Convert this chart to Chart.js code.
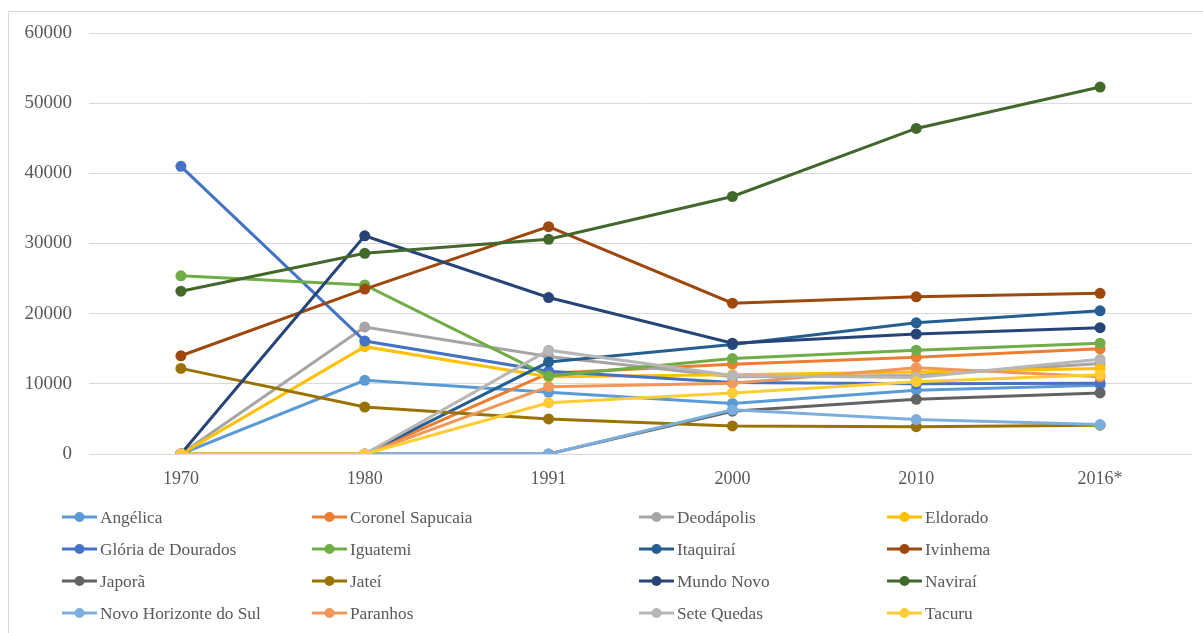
<!DOCTYPE html>
<html>
<head>
<meta charset="utf-8">
<script src="https://cdn.jsdelivr.net/npm/chart.js@4/dist/chart.umd.min.js"></script>
<style>
  html, body { margin: 0; padding: 0; background: #fff; }
  #wrap { width: 1203px; height: 633px; position: relative; }
</style>
</head>
<body>
<div id="wrap"><canvas id="c"></canvas></div>
<script>
const categories = ["1970", "1980", "1991", "2000", "2010", "2016*"];
const yTicks = [0, 10000, 20000, 30000, 40000, 50000, 60000];

const seriesNames = [
  "Angélica", "Coronel Sapucaia", "Deodápolis", "Eldorado",
  "Glória de Dourados", "Iguatemi", "Itaquiraí", "Ivinhema",
  "Japorã", "Jateí", "Mundo Novo", "Naviraí",
  "Novo Horizonte do Sul", "Paranhos", "Sete Quedas", "Tacuru"
];

const angelica        = [0, 10500, 8800, 7200, 9100, 9800];
const coronelSapucaia = [0, 0, 11500, 12800, 13800, 15000];
const deodapolis      = [0, 18100, 13900, 11000, 11200, 12900];
const eldorado        = [0, 15300, 11000, 11300, 11700, 12200];
const gloria          = [41000, 16100, 11800, 10200, 10000, 10100];
const iguatemi        = [25400, 24100, 11100, 13600, 14800, 15800];
const itaquirai       = [0, 0, 13100, 15600, 18700, 20400];
const ivinhema        = [14000, 23500, 32400, 21500, 22400, 22900];
const japora          = [0, 0, 0, 6100, 7800, 8700];
const jatei           = [12200, 6700, 5000, 4000, 3900, 4100];
const mundoNovo       = [0, 31100, 22300, 15800, 17100, 18000];
const navirai         = [23200, 28600, 30600, 36700, 46400, 52300];
const novoHorizonte   = [0, 0, 0, 6300, 4900, 4200];
const paranhos        = [0, 0, 9600, 10100, 12300, 11000];
const seteQuedas      = [0, 0, 14800, 11200, 10900, 13500];
const tacuru          = [0, 0, 7300, 8700, 10300, 11300];

const seriesValues = [
  angelica, coronelSapucaia, deodapolis, eldorado,
  gloria, iguatemi, itaquirai, ivinhema,
  japora, jatei, mundoNovo, navirai,
  novoHorizonte, paranhos, seteQuedas, tacuru
];

const colors = [
  "#5B9BD5", "#ED7D31", "#A5A5A5", "#FFC000",
  "#4472C4", "#70AD47", "#255E91", "#9E480E",
  "#636363", "#997300", "#264478", "#43682B",
  "#7CAFDD", "#F1975A", "#B7B7B7", "#FFCD33"
];

const FONT = "'Liberation Serif', 'Times New Roman', serif";
const TEXT = "#595959";
const n = seriesNames.length;

const datasets = seriesNames.map((name, i) => ({
  label: name,
  data: seriesValues[i],
  borderColor: colors[i],
  backgroundColor: colors[i],
  pointBackgroundColor: colors[i],
  pointBorderColor: colors[i],
  borderWidth: 3,
  pointRadius: 5.5,
  pointBorderWidth: 0,
  tension: 0,
  fill: false,
  order: n - i
}));

const legendCols = [62, 312, 639, 887];
const legendRows = [517, 549, 581, 613];

const gridLegend = {
  id: "gridLegend",
  afterDraw(chart) {
    const ctx = chart.ctx;
    ctx.save();
    chart.data.datasets.forEach((ds, i) => {
      const x = legendCols[i % 4];
      const y = legendRows[Math.floor(i / 4)];
      ctx.strokeStyle = ds.borderColor;
      ctx.lineWidth = 3;
      ctx.beginPath();
      ctx.moveTo(x, y);
      ctx.lineTo(x + 35, y);
      ctx.stroke();
      ctx.fillStyle = ds.borderColor;
      ctx.beginPath();
      ctx.arc(x + 17.5, y, 5, 0, Math.PI * 2);
      ctx.fill();
      ctx.fillStyle = TEXT;
      ctx.font = "17.3px " + FONT;
      ctx.textBaseline = "middle";
      ctx.textAlign = "left";
      ctx.fillText(ds.label, x + 38, y + 1);
    });
    ctx.strokeStyle = "#D9D9D9";
    ctx.lineWidth = 1;
    ctx.strokeRect(8.5, 11.5, 1220, 700);
    ctx.restore();
  }
};

new Chart(document.getElementById("c"), {
  type: "line",
  data: { labels: categories, datasets },
  plugins: [gridLegend],
  options: {
    responsive: true,
    maintainAspectRatio: false,
    animation: false,
    layout: { padding: { left: 10, right: 11, top: 33, bottom: 149 } },
    plugins: { legend: { display: false }, tooltip: { enabled: false } },
    scales: {
      x: {
        offset: true,
        grid: { display: false, drawTicks: false },
        border: { display: false },
        ticks: { color: TEXT, font: { family: FONT, size: 18 }, padding: 14, maxRotation: 0 },
        afterFit(scale) { scale.height = 30; }
      },
      y: {
        min: 0, max: 60000,
        afterBuildTicks(scale) { scale.ticks = yTicks.map(v => ({ value: v })); },
        grid: { color: "#D9D9D9", lineWidth: 1, drawTicks: false },
        border: { display: false },
        ticks: {
          color: TEXT, font: { family: FONT, size: 19 }, padding: 17,
          callback: (v) => String(v)
        },
        afterFit(scale) { scale.width = 79; }
      }
    }
  }
});
</script>
</body>
</html>
